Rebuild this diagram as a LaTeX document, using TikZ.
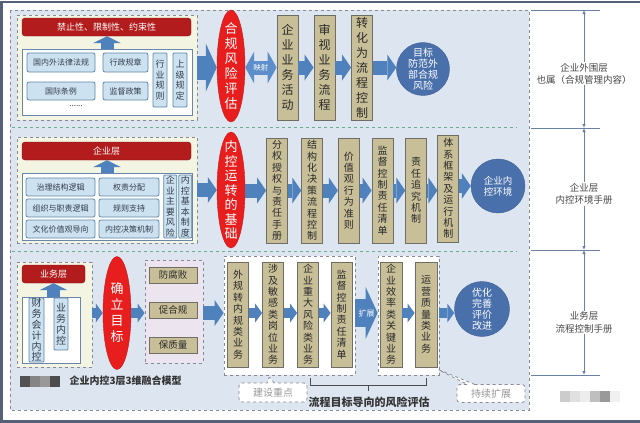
\documentclass[tikz,border=0pt]{standalone}
\usepackage{fontspec}
\setmainfont{Noto Sans CJK SC}
\XeTeXlinebreaklocale "zh"
\XeTeXlinebreakskip=0pt plus 1pt
\setlength{\parindent}{0pt}
\setlength{\lineskiplimit}{-100pt}
\setlength{\lineskip}{0pt}
\usetikzlibrary{arrows.meta,shapes.geometric,shapes.callouts,positioning}

\definecolor{panelbg}{RGB}{221,229,240}
\definecolor{framec}{RGB}{85,98,118}
\definecolor{dashgray}{RGB}{135,138,148}
\definecolor{sepgreen}{RGB}{105,172,145}
\definecolor{paleyel}{RGB}{244,244,226}
\definecolor{pinkbg}{RGB}{236,228,238}
\definecolor{wline}{RGB}{105,135,172}
\definecolor{barred}{RGB}{178,28,28}
\definecolor{ellred}{RGB}{232,30,30}
\definecolor{itemblue}{RGB}{205,226,240}
\definecolor{itemline}{RGB}{95,135,165}
\definecolor{itemtext}{RGB}{50,60,75}
\definecolor{tanfill}{RGB}{200,191,152}
\definecolor{tanline}{RGB}{110,110,100}
\definecolor{tantext}{RGB}{40,40,40}
\definecolor{flowblue}{RGB}{79,129,189}
\definecolor{mapblue}{RGB}{92,142,202}
\definecolor{goalblue}{RGB}{74,112,172}
\definecolor{dimline}{RGB}{105,130,165}
\definecolor{labtext}{RGB}{70,70,70}
\definecolor{notegray}{RGB}{150,150,150}

\begin{document}
\begin{tikzpicture}[x=1pt,y=-1pt,
  panel/.style={draw=dashgray,dashed,fill=panelbg,line width=.8pt},
  sep/.style={draw=sepgreen,dashed,line width=.8pt},
  yel/.style={draw=dashgray,dashed,fill=paleyel,line width=.8pt,inner sep=0pt},
  pinkbox/.style={draw=dashgray,dashed,fill=pinkbg,line width=.8pt,inner sep=0pt},
  wbox/.style={draw=wline,fill=white,line width=.8pt,inner sep=0pt},
  dbox/.style={draw=dashgray,dashed,fill=white,line width=.8pt,inner sep=0pt,minimum height=119pt},
  bar/.style={fill=barred,draw=barred!75!black,rounded corners=3pt,text=white,inner sep=0pt,minimum height=18pt,font=\fontsize{9}{9}\selectfont},
  item/.style={draw=itemline,fill=itemblue,rounded corners=2pt,line width=.8pt,inner sep=0pt,text=itemtext,minimum height=18pt,font=\fontsize{8}{8}\selectfont},
  vitem/.style={item,rounded corners=1pt,text width=10pt,minimum width=14pt,align=center,font=\fontsize{9}{10.6}\selectfont},
  tanbox/.style={draw=tanline,fill=tanfill,line width=.8pt,inner sep=0pt,text=tantext,text width=13pt,minimum width=21pt,minimum height=105pt,align=center,font=\fontsize{10}{11.4}\selectfont},
  tanitem/.style={draw=tanline,fill=tanfill,line width=.8pt,inner sep=0pt,text=tantext,minimum width=48pt,minimum height=16pt,font=\fontsize{9.5}{9.5}\selectfont},
  redell/.style={ellipse,fill=ellred,draw=ellred!85!black,inner sep=0pt,minimum width=28pt,minimum height=113pt},
  elltext/.style={text=white,text width=15pt,align=center,font=\fontsize{13}{15}\selectfont},
  goal/.style={circle,fill=goalblue,draw=goalblue!85!black,inner sep=0pt,minimum size=54pt},
  goaltext/.style={text=white,align=center,font=\fontsize{10}{11}\selectfont},
  bigflow/.style={draw=flowblue,line width=24pt,-{Triangle[length=11pt,width=48pt,line width=0pt]}},
  midflow/.style={draw=flowblue,line width=14pt,-{Triangle[length=9pt,width=26pt,line width=0pt]}},
  smallflow/.style={draw=flowblue,line width=10pt,-{Triangle[length=7pt,width=19pt,line width=0pt]}},
  upflow/.style={draw=flowblue,line width=13pt,-{Triangle[length=7pt,width=28pt,line width=0pt]}},
  mapflow/.style={draw=mapblue,line width=14pt,{Triangle[length=9pt,width=32pt,line width=0pt]}-{Triangle[length=9pt,width=32pt,line width=0pt]}},
  expflow/.style={draw=flowblue,line width=28pt,-{Triangle[length=12pt,width=52pt,line width=0pt]}},
  flowlabel/.style={text=white,inner sep=0pt,font=\fontsize{7.5}{7.5}\selectfont},
  note/.style={rectangle callout,draw=dashgray,dashed,fill=white,rounded corners=3pt,line width=.8pt,minimum width=68pt,minimum height=19pt,inner sep=0pt,text=notegray,font=\fontsize{10}{10}\selectfont},
  dim/.style={draw=dimline,line width=.8pt},
  dimarr/.style={dim,{Latex[length=4pt,width=3.5pt]}-{Latex[length=4pt,width=3.5pt]}},
  dimlabel/.style={fill=white,text=labtext,align=center,inner sep=1pt,font=\fontsize{9.5}{12.5}\selectfont}]
\useasboundingbox (0,0) rectangle (640,423);
\draw[framec,line width=2.5pt] (645,2) -- (1.5,2) -- (1.5,421.5) -- (645,421.5);
\draw[panel] (10,10) rectangle (529,410);
\draw[sep] (12,127.5) -- (517,127.5); \draw[sep] (12,251) -- (517,251);

% row 1
\node[yel,minimum width=180pt,minimum height=105pt] (yel1) at (107,67.5) {};
\node[bar,minimum width=169pt] (bar1) at (106.5,27) {禁止性、限制性、约束性};
\node[wbox,minimum width=170pt,minimum height=66pt] (wb1) at (107,82) {};
\node[item,minimum width=68pt,minimum height=19pt] (law1) at (61,62.5) {国内外法律法规};
\node[item,minimum width=45pt,minimum height=19pt] (law2) at (125.5,62.5) {行政规章};
\node[item,minimum width=68pt] (law3) at (61,91) {国际条例};
\node[item,minimum width=45pt] (law4) at (125.5,91) {监督政策};
\node[text=itemtext,font=\fontsize{8}{8}\selectfont] (law5) at (76,106) {......};
\node[vitem,minimum height=54pt] (law6) at (160,80) {行业规则};
\node[vitem,minimum height=54pt] (law7) at (180,80) {上级规定};
\draw[upflow] (wb1.north) -- (wb1.north |- bar1.south);
\node[redell,minimum height=112pt,label={[elltext]center:合规风险评估}] (risk1) at (231,66) {};
\node[tanbox,font=\fontsize{12}{15}\selectfont] (act1) at (287.5,67.5) {企业业务活动};
\node[tanbox,font=\fontsize{12}{15}\selectfont] (act2) at (324.5,67.5) {审视业务流程};
\node[tanbox,font=\fontsize{12}{15}\selectfont] (act3) at (362,67.5) {转化为流程控制};
\node[goal,minimum size=53pt,label={[goaltext]center:目标\\防范外\\部合规\\风险}] (goal1) at (423,69) {};
\draw[bigflow] (yel1.east) -- (yel1.east -| risk1.west);
\draw[mapflow] (risk1.east |- act1) -- node[flowlabel]{映射} (act1.west);
\draw[midflow] (act1) -- (act2);
\draw[midflow] (act2) -- (act3);
\draw[midflow] (act3.east) -- (act3.east -| goal1.west);

% row 2
\node[yel,minimum width=180pt,minimum height=106pt] (yel2) at (107,190) {};
\node[bar,minimum width=169pt] (bar2) at (106.5,151) {企业层};
\node[wbox,minimum width=170pt,minimum height=67pt] (wb2) at (107,206.5) {};
\node[item,minimum width=69pt] (org1) at (60.5,187) {治理结构逻辑};
\node[item,minimum width=60pt] (org2) at (129,187) {权责分配};
\node[item,minimum width=69pt] (org3) at (60.5,208) {组织与职责逻辑};
\node[item,minimum width=60pt] (org4) at (129,208) {规则支持};
\node[item,minimum width=69pt] (org5) at (60.5,229) {文化价值观导向};
\node[item,minimum width=60pt] (org6) at (129,229) {内控决策机制};
\node[vitem,minimum width=13pt,minimum height=63pt] (org7) at (170.3,206.5) {企业主要风险};
\node[vitem,minimum width=13pt,minimum height=63pt] (org8) at (185.3,206.5) {内控基本制度};
\draw[upflow] (wb2.north) -- (wb2.north |- bar2.south);
\node[redell,minimum height=116pt,label={[elltext,font=\fontsize{13}{14.5}\selectfont]center:内控运转的基础}] (risk2) at (231,190) {};
\node[tanbox] (ctl1) at (277,190.5) {分权授权与责任手册};
\node[tanbox] (ctl2) at (312.2,190.5) {结构化决策流程控制};
\node[tanbox] (ctl3) at (348.8,190.5) {价值观行为准则};
\node[tanbox] (ctl4) at (382.5,190.5) {监督控制责任清单};
\node[tanbox] (ctl5) at (416.2,190.5) {责任追究机制};
\node[tanbox,minimum height=107pt] (ctl6) at (448.3,188.5) {体系框架及运行机制};
\node[goal,label={[goaltext,font=\fontsize{9.5}{11}\selectfont]center:企业内\\控环境}] (goal2) at (498,186) {};
\draw[midflow] (yel2.east) -- (yel2.east -| risk2.west);
\draw[midflow] (risk2.east |- ctl1) -- (ctl1.west);
\foreach \a/\b in {ctl1/ctl2,ctl2/ctl3,ctl3/ctl4,ctl4/ctl5,ctl5/ctl6} \draw[midflow] (\a.east) -- (\a.east -| \b.west);
\draw[midflow] (ctl6.east |- goal2) -- (goal2.west);

% row 3
\node[yel,minimum width=75pt,minimum height=105pt] (yel3) at (54.5,314.5) {};
\node[bar,minimum width=63pt] (bar3) at (53.5,274) {业务层};
\node[wbox,minimum width=58pt,minimum height=66pt] (wb3) at (51,330) {};
\node[vitem,minimum width=15pt,minimum height=64pt,font=\fontsize{10}{10.8}\selectfont] (biz1) at (36.5,330) {财务会计内控};
\node[vitem,minimum height=52pt,font=\fontsize{10}{11}\selectfont] (biz2) at (61,324) {业务内控};
\draw[upflow] (wb3.north -| bar3.south) -- (bar3.south);
\node[redell,label={[elltext,font=\fontsize{13}{16}\selectfont]center:确立目标}] (risk3) at (117,313) {};
\node[pinkbox,minimum width=58pt,minimum height=103pt] (aim) at (174,311.5) {};
\node[tanitem] (aim1) at (173,275) {防腐败};
\node[tanitem] (aim2) at (173,310) {促合规};
\node[tanitem] (aim3) at (173,345) {保质量};
\node[dbox,minimum width=131pt] (keyA) at (289.5,315.5) {};
\node[dbox,minimum width=61pt] (keyB) at (408.5,315.5) {};
\node[tanbox] (bz1) at (238,314.5) {外规转内规类业务};
\node[tanbox] (bz2) at (273,314.5) {涉及敏感类岗位业务};
\node[tanbox] (bz3) at (308,314.5) {企业重大风险类业务};
\node[tanbox] (bz4) at (341.5,314.5) {监督控制责任清单};
\node[tanbox,minimum width=22pt] (bz5) at (391,314.5) {企业效率类关键业务};
\node[tanbox,minimum width=22pt] (bz6) at (426,314.5) {运营质量类业务};
\node[goal,minimum size=55pt,label={[goaltext]center:优化\\完善\\评价\\改进}] (goal3) at (482,309) {};
\draw[smallflow] (yel3.east |- risk3) -- (risk3.west);
\draw[smallflow] (risk3.east) -- (risk3.east -| aim.west);
\draw[midflow] (aim.east |- risk3) -- (risk3 -| keyA.west);
\foreach \a/\b in {bz1/bz2,bz2/bz3,bz3/bz4,bz5/bz6} \draw[smallflow] (\a.east |- risk3) -- (risk3 -| \b.west);
\draw[expflow] (keyA.east |- risk3) -- node[flowlabel,font=\fontsize{8}{8}\selectfont]{扩展} (risk3 -| keyB.west);
\draw[smallflow] (keyB.east |- risk3) -- (risk3 -| goal3.west);

% notes and brackets
\coordinate (p1) at (269,376);
\coordinate (p2) at (437,369);
\node[note,callout absolute pointer={(p1)}] (build) at (273,392.5) {建设重点};
\node[note,minimum height=18pt,callout absolute pointer={(p2)}] (grow) at (491,393.5) {持续扩展};
\draw[draw=black!70,line width=1pt] (310,378) -- (310,385) -- (426,385) -- (426,378) (368,385) -- (368,391);
\node[text=black!80,font=\fontsize{11}{11}\selectfont\bfseries] (riskeval) at (369,402) {流程目标导向的风险评估};
\foreach \x/\c in {20/black!68,30/black!48,40/black!40,50/black!70} \fill[\c] (\x,376) rectangle ++(10,11);
\node[anchor=west,text=black!80,font=\fontsize{10}{10}\selectfont\bfseries] (title) at (66,381) {企业内控3层3维融合模型};
\foreach \x/\c in {560/black!20,570/black!12,580/black!7,590/black!25,600/black!40,610/black!6} \fill[\c] (\x,391) rectangle ++(10,11);

% right side scale
\foreach \y in {10,128,250,375} \draw[dim] (531,\y) -- (600,\y);
\coordinate (t0) at (584,10); \coordinate (t1) at (584,128);
\coordinate (t2) at (584,250); \coordinate (t3) at (584,375);
\draw[dimarr] (t0) -- node[dimlabel,pos=.54] (lay1) {企业外围层\\也属（合规管理内容）} (t1);
\draw[dimarr] (t1) -- node[dimlabel,pos=.54] (lay2) {企业层\\内控环境手册} (t2);
\draw[dimarr] (t2) -- node[dimlabel,pos=.58] (lay3) {业务层\\流程控制手册} (t3);
\end{tikzpicture}
\end{document}
